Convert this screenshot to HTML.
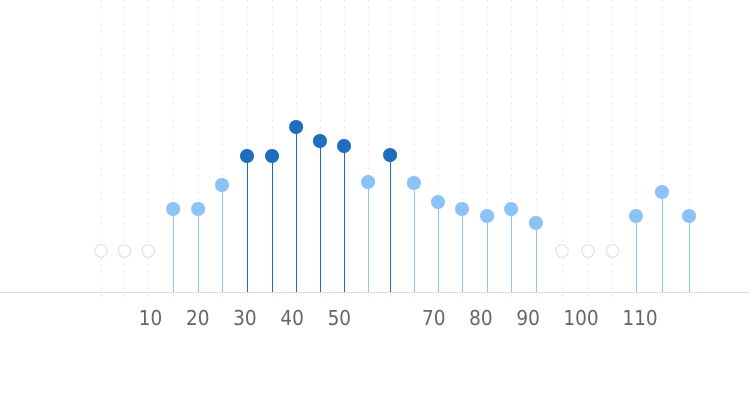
<!DOCTYPE html>
<html>
<head>
<meta charset="utf-8">
<style>
html,body{margin:0;padding:0;background:#fff;width:749px;height:409px;overflow:hidden}
svg{display:block}
text{font-family:"DejaVu Sans","Liberation Sans",sans-serif;font-size:20.5px;fill:#666}
</style>
</head>
<body>
<svg id="chart" width="749" height="409" viewBox="0 0 749 409" xmlns="http://www.w3.org/2000/svg"></svg>
<script>
const xValues = [-0.5,4.5,9.55,14.8,20.1,25.15,30.45,35.75,40.85,45.9,51,56.1,60.75,65.8,70.9,76,81.3,86.4,91.65,97.2,102.7,107.9,112.85,118.35,124.1];
const seriesValues = [null,null,null,83,83,107,136,136,165,151,146,110,137,109,90,83,76,83,69,null,null,null,76,100,76];
const tickValues = [10,20,30,40,50,70,80,90,101.2,113.7];
const tickLabels = ["10","20","30","40","50","70","80","90","100","110"];
const missingLevel = 41;
const highThreshold = 130;

const NS = 'http://www.w3.org/2000/svg';
const svg = document.getElementById('chart');
function xScale(v){ return 150.5 + (v - 10) * 4.72; }
function yScale(v){ return 292 - v; }
function stemX(v){ return Math.round(xScale(v) - 0.2) + 0.5; }
function make(tag, attrs){
  const el = document.createElementNS(NS, tag);
  for (const k in attrs) el.setAttribute(k, attrs[k]);
  svg.appendChild(el);
  return el;
}
xValues.forEach(function(xv){
  const px = stemX(xv);
  const g = make('line', {x1:px, x2:px, y1:0, y2:301, stroke:'#e9e9e9', 'stroke-width':1, 'stroke-dasharray':'2 4'});
  
  
});
const axis = make('line', {x1:0, x2:749, y1:292.5, y2:292.5, stroke:'#dddddd', 'stroke-width':1});


seriesValues.forEach(function(v, i){
  const cx = xScale(xValues[i]);
  if (v === null) {
    const e = make('circle', {cx:cx, cy:yScale(missingLevel), r:6.2, fill:'#fff', stroke:'#dddddd', 'stroke-width':1});
    
    
    return;
  }
  const color = v >= highThreshold ? '#1e6dbf' : '#8cc2f5';
  const px = stemX(xValues[i]);
  const s = make('line', {x1:px, x2:px, y1:yScale(v), y2:292, stroke:color, 'stroke-width':1});
  
  
  const c = make('circle', {cx:cx, cy:yScale(v), r:7, fill:color});
  
  
});
tickLabels.forEach(function(label, i){
  const t = make('text', {'text-anchor':'middle', transform:'translate(' + xScale(tickValues[i]) + ',325) scale(0.9,1)'});
  t.textContent = label;
  
  
});
</script>
</body>
</html>
